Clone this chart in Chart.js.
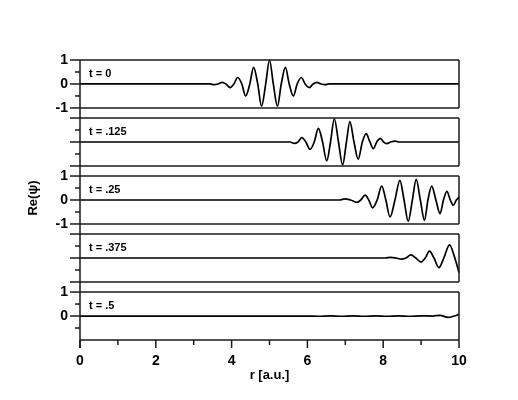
<!DOCTYPE html>
<html>
<head>
<meta charset="utf-8">
<script src="https://cdn.jsdelivr.net/npm/chart.js@4.4.1/dist/chart.umd.min.js"></script>
<style>
html,body{margin:0;padding:0;background:#fff;}
canvas{display:block;}
</style>
</head>
<body>
<canvas id="c" width="518" height="400"></canvas>
<script>
// ---- data ----
const panelLabels = ['t = 0', 't = .125', 't = .25', 't = .375', 't = .5'];

// t = 0
const r0 = [0, 3.43, 3.54, 3.64, 3.75, 3.85, 3.96, 4.06, 4.16, 4.27, 4.37, 4.48, 4.58, 4.69, 4.79, 4.90, 5.00, 5.10, 5.21, 5.31, 5.42, 5.52, 5.63, 5.73, 5.84, 5.94, 6.05, 6.15, 6.25, 6.36, 6.46, 6.57, 10];
const v0 = [0, 0, -0.03, 0, 0.07, 0, -0.15, 0, 0.27, 0, -0.50, 0, 0.69, 0, -0.93, 0, 1.00, 0, -0.93, 0, 0.69, 0, -0.50, 0, 0.27, 0, -0.15, 0, 0.07, 0, -0.03, 0, 0];

// t = .125
const r1 = [0, 5.55, 5.65, 5.75, 5.85, 5.96, 6.07, 6.18, 6.29, 6.40, 6.51, 6.61, 6.71, 6.82, 6.93, 7.03, 7.12, 7.23, 7.34, 7.45, 7.55, 7.65, 7.74, 7.83, 7.92, 8.01, 8.09, 8.20, 8.31, 8.42, 10];
const v1 = [0, 0, -0.06, 0, 0.18, 0, -0.31, 0, 0.57, 0, -0.79, 0, 0.97, 0, -0.96, 0, 0.85, 0, -0.72, 0, 0.35, 0, -0.28, 0, 0.15, 0, -0.07, 0, 0.04, 0, 0];

// t = .25
const r2 = [0, 6.85, 6.99, 7.14, 7.30, 7.41, 7.52, 7.62, 7.72, 7.84, 7.96, 8.07, 8.18, 8.31, 8.44, 8.55, 8.66, 8.77, 8.87, 8.98, 9.09, 9.18, 9.28, 9.39, 9.50, 9.59, 9.68, 9.77, 9.85, 9.93, 10];
const v2 = [0, 0, 0.05, 0, -0.10, 0, 0.20, 0, -0.33, 0, 0.58, 0, -0.71, 0, 0.82, 0, -0.89, 0, 0.86, 0, -0.85, 0, 0.58, 0, -0.57, 0, 0.36, 0, -0.22, 0, 0.12];

// t = .375
const r3 = [0, 8.05, 8.20, 8.34, 8.48, 8.60, 8.73, 8.86, 9.00, 9.11, 9.22, 9.34, 9.47, 9.60, 9.75, 9.89, 10];
const v3 = [0, 0, 0.03, 0, -0.05, 0, 0.13, 0, -0.17, 0, 0.29, 0, -0.40, 0, 0.55, 0, -0.61];

// t = .5
const r4 = [0, 6.0, 6.3, 6.6, 6.9, 7.2, 7.5, 7.8, 8.1, 8.4, 8.7, 9.0, 9.3, 9.5, 9.71, 9.87, 10];
const v4 = [0, 0, -0.01, 0.01, -0.01, 0.01, -0.01, 0.01, -0.01, 0.01, -0.01, 0.01, 0, 0.03, -0.06, 0, 0.07];

const xTicks = [0, 1, 2, 3, 4, 5, 6, 7, 8, 9, 10];
const xTickLabels = ['0', '', '2', '', '4', '', '6', '', '8', '', '10'];
const yTicks = [-1, -0.5, 0, 0.5, 1];
const panelTickText = [
  {'1': '1', '0': '0', '-1': '-1'},
  {},
  {'1': '1', '0': '0', '-1': '-1'},
  {},
  {'1': '1', '0': '0'}
];
const xTitle = 'r [a.u.]';
const yTitle = 'Re(\u03C8)';

// ---- chart ----
const series = [[r0, v0], [r1, v1], [r2, v2], [r3, v3], [r4, v4]];
const FONT = "'Liberation Sans', Arial, Helvetica, sans-serif";
const N = series.length;

const datasets = series.map(([r, v], i) => ({
  data: r.map((x, k) => ({x: x, y: v[k]})),
  yAxisID: 'y' + i,
  borderColor: '#000',
  borderWidth: 1.7,
  pointRadius: 0,
  fill: false,
  cubicInterpolationMode: 'monotone',
  clip: false
}));

const scales = {
  x: {
    type: 'linear', min: 0, max: 10,
    afterBuildTicks: s => { s.ticks = xTicks.map(v => ({value: v})); },
    ticks: {
      autoSkip: false, maxRotation: 0, padding: 13, color: '#000',
      font: {family: FONT, size: 14, weight: 'bold'},
      callback: (v, i) => xTickLabels[i]
    },
    grid: {display: false, drawTicks: false},
    border: {display: false},
    title: {display: true, text: xTitle, color: '#000',
            font: {family: FONT, size: 13, weight: 'bold'}, padding: {top: 0, bottom: 17}},
    afterFit: s => { s.height = 60; }
  }
};
for (let i = 0; i < N; i++) {
  const last = i === N - 1;
  scales['y' + i] = {
    type: 'linear', position: 'left', stack: 'panels',
    stackWeight: last ? 2 : 2.42, weight: N - i,
    min: last ? -1 : -1.42, max: 1,
    afterBuildTicks: s => { s.ticks = yTicks.map(v => ({value: v})); },
    ticks: {
      autoSkip: false, padding: 12, color: '#000',
      font: {family: FONT, size: 14, weight: 'bold'},
      callback: v => panelTickText[i][String(v)] || ''
    },
    grid: {display: false, drawTicks: false},
    border: {display: false},
    afterFit: s => { s.width = 80; }
  };
}

const framePlugin = {
  id: 'frames',
  afterDatasetsDraw(chart) {
    const ctx = chart.ctx;
    const xs = chart.scales.x;
    const xL = xs.getPixelForValue(0), xR = xs.getPixelForValue(10);
    const line = (a, b, c, d) => { ctx.beginPath(); ctx.moveTo(a, b); ctx.lineTo(c, d); ctx.stroke(); };
    ctx.save();
    ctx.strokeStyle = '#1a1a1a';
    ctx.lineWidth = 1.5;
    let topY = null, botY = null;
    for (let i = 0; i < N; i++) {
      const s = chart.scales['y' + i];
      const yT = s.getPixelForValue(1), yB = s.getPixelForValue(-1);
      if (topY === null) topY = yT;
      botY = yB;
      line(xL, yT, xR, yT);
      line(xL, yB, xR, yB);
      line(xR, yT, xR, yB);
      yTicks.forEach(v => {
        if (i === N - 1 && v === -1) return;
        const yy = s.getPixelForValue(v);
        const len = (v === 0 || Math.abs(v) === 1) ? 10 : 5;
        line(xL - len, yy, xL, yy);
      });
      // panel label
      ctx.fillStyle = '#000';
      ctx.font = 'bold 11px ' + FONT;
      ctx.textAlign = 'left';
      ctx.textBaseline = 'alphabetic';
      ctx.fillText(panelLabels[i], xL + 9, yT + 17);
    }
    // continuous left spine
    line(xL, topY, xL, botY + 8);
    // x ticks
    xTicks.forEach((v, k) => {
      const xx = xs.getPixelForValue(v);
      const len = xTickLabels[k] !== '' ? 8 : 5;
      line(xx, botY, xx, botY + len);
    });
    // y title
    ctx.save();
    ctx.translate(33, (topY + botY) / 2 - 2);
    ctx.rotate(-Math.PI / 2);
    ctx.font = 'bold 13px ' + FONT;
    ctx.textAlign = 'center';
    ctx.textBaseline = 'middle';
    ctx.fillStyle = '#000';
    ctx.fillText(yTitle, 0, 0);
    ctx.restore();
    ctx.restore();
  }
};

new Chart(document.getElementById('c'), {
  type: 'line',
  data: {datasets: datasets},
  options: {
    responsive: false,
    animation: false,
    layout: {padding: {left: 0, right: 59, top: 60, bottom: 0}},
    plugins: {legend: {display: false}, tooltip: {enabled: false}},
    scales: scales
  },
  plugins: [framePlugin]
});
</script>
</body>
</html>
